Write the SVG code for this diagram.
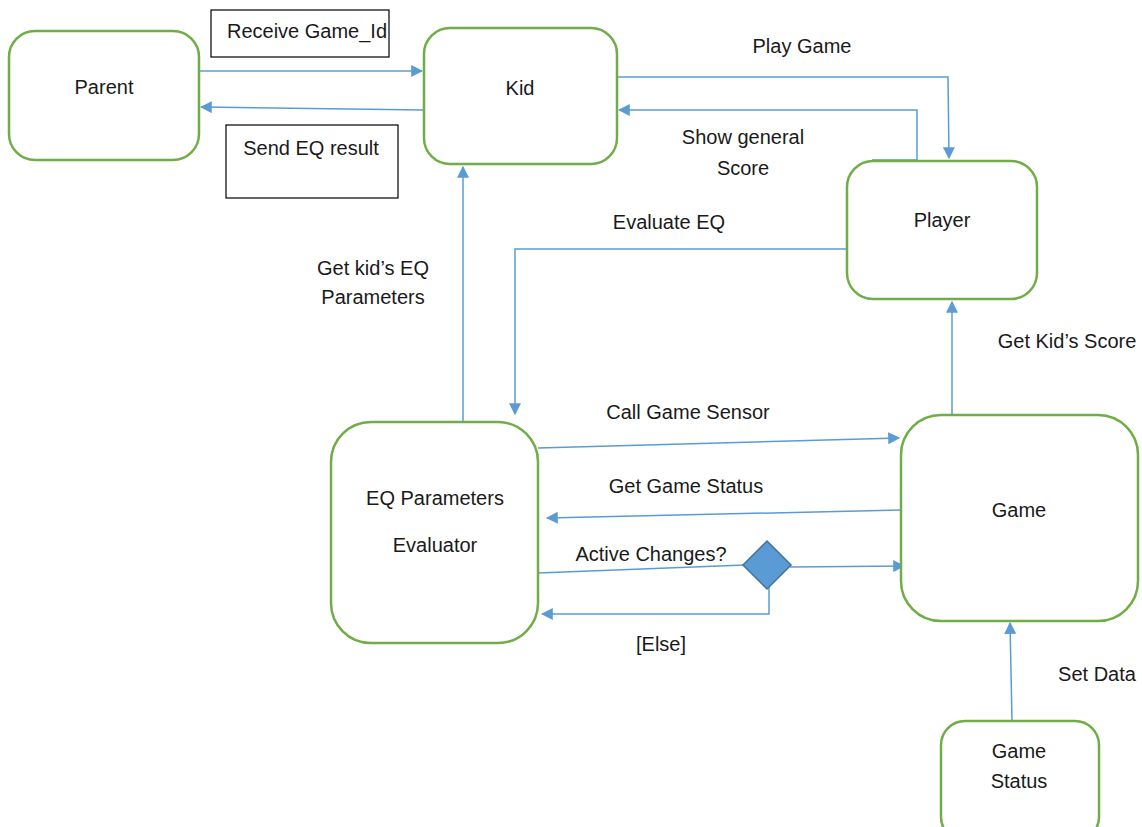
<svg xmlns="http://www.w3.org/2000/svg" width="1142" height="827" viewBox="0 0 1142 827">
<defs>
<marker id="ah" viewBox="0 0 10 10" refX="9" refY="5" markerWidth="12" markerHeight="12" markerUnits="userSpaceOnUse" orient="auto"><path d="M0,0 L10,5 L0,10 z" fill="#5b9bd5"/></marker>
<style>
.node{fill:#fff;stroke:#70ad47;stroke-width:2.5}
.box{fill:#fff;stroke:#000;stroke-width:1.2}
.c{fill:none;stroke:#5b9bd5;stroke-width:1.5}
text{font-family:"Liberation Sans",Arial,sans-serif;font-size:20px;fill:#1a1a1a}
.m{text-anchor:middle}
</style>
</defs>
<rect width="1142" height="827" fill="#fff"/>
<g id="connectors">
<path class="c" d="M199,71 L422,71" marker-end="url(#ah)"/>
<path class="c" d="M424,110 L201,107" marker-end="url(#ah)"/>
<path class="c" d="M463,422 L463,167" marker-end="url(#ah)"/>
<path class="c" d="M617,77 L948,77 L949,158" marker-end="url(#ah)"/>
<path class="c" d="M917,160 L917,110 L619,110" marker-end="url(#ah)"/>
<path class="c" d="M872,160 L917,160"/>
<path class="c" d="M847,249 L515,249 L515,414" marker-end="url(#ah)"/>
<path class="c" d="M952,415 L952,302" marker-end="url(#ah)"/>
<path class="c" d="M538,448 L899,438" marker-end="url(#ah)"/>
<path class="c" d="M901,510 L547,518" marker-end="url(#ah)"/>
<path class="c" d="M538,573 L745,565"/>
<path class="c" d="M790,567 L904,566" marker-end="url(#ah)"/>
<path class="c" d="M769,587 L769,614 L542,614" marker-end="url(#ah)"/>
<path class="c" d="M1012,721 L1010,623" marker-end="url(#ah)"/>
<polygon points="767,541 791,565 767,589 743,565" fill="#5b9bd5" stroke="#41719c" stroke-width="1.5"/>
</g>
<g id="labels">
<rect class="box" x="211" y="10" width="178" height="47"/>
<text x="307" y="38" class="m">Receive Game_Id</text>
<rect class="box" x="226" y="125" width="172" height="73"/>
<text x="311" y="155" class="m">Send EQ result</text>
<text x="802" y="53" class="m">Play Game</text>
<text x="743" y="144" class="m">Show general</text>
<text x="743" y="175" class="m">Score</text>
<text x="669" y="229" class="m">Evaluate EQ</text>
<text x="373" y="275" class="m">Get kid’s EQ</text>
<text x="373" y="304" class="m">Parameters</text>
<text x="1067" y="348" class="m">Get Kid’s Score</text>
<text x="688" y="419" class="m">Call Game Sensor</text>
<text x="686" y="493" class="m">Get Game Status</text>
<text x="651" y="561" class="m">Active Changes?</text>
<text x="661" y="651" class="m">[Else]</text>
<text x="1097" y="681" class="m">Set Data</text>
</g>
<g id="parent"><rect class="node" x="9" y="31" width="190" height="129" rx="26"/><text x="104" y="94" class="m">Parent</text></g>
<g id="kid"><rect class="node" x="424" y="28" width="193" height="136" rx="26"/><text x="520" y="95" class="m">Kid</text></g>
<g id="player"><rect class="node" x="847" y="161" width="190" height="138" rx="26"/><text x="942" y="227" class="m">Player</text></g>
<g id="evaluator"><rect class="node" x="331" y="422" width="207" height="221" rx="40"/><text x="435" y="505" class="m">EQ Parameters</text><text x="435" y="552" class="m">Evaluator</text></g>
<g id="game"><rect class="node" x="901" y="415" width="237" height="206" rx="40"/><text x="1019" y="517" class="m">Game</text></g>
<g id="gamestatus"><rect class="node" x="941" y="721" width="158" height="120" rx="24"/><text x="1019" y="758" class="m">Game</text><text x="1019" y="788" class="m">Status</text></g>
</svg>
